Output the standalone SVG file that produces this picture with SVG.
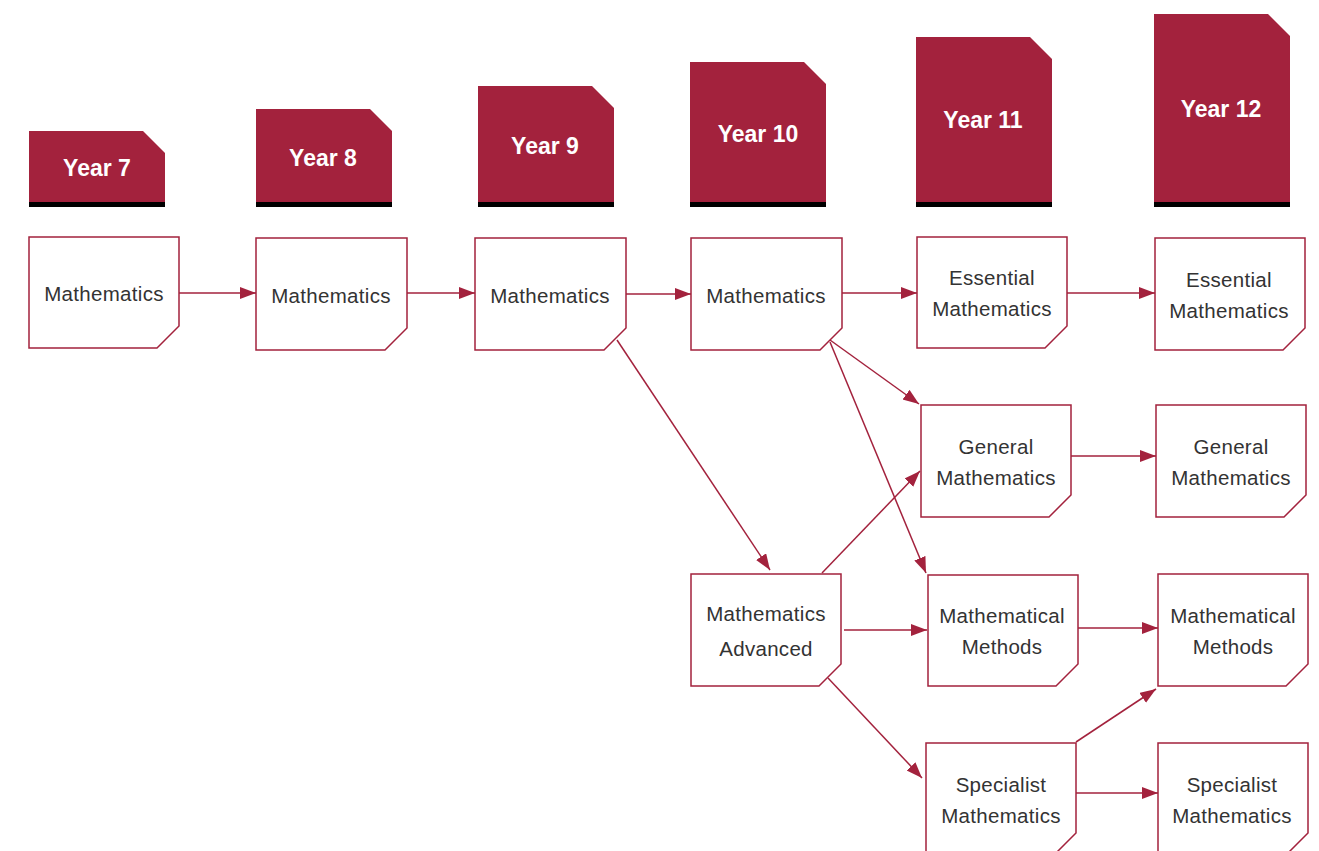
<svg xmlns="http://www.w3.org/2000/svg" width="1319" height="851" viewBox="0 0 1319 851">
<style>
.hdr{fill:#A3223D}
.bar{fill:#000}
.ht{font-family:"Liberation Sans",Arial,sans-serif;font-weight:bold;font-size:23px;fill:#fff;text-anchor:middle;dominant-baseline:central}
.box{fill:#fff;stroke:#A3223D;stroke-width:1.5}
.bt{font-family:"Liberation Sans",Arial,sans-serif;font-size:20.5px;fill:#333;text-anchor:middle;dominant-baseline:central;letter-spacing:0.3px}
.c{fill:none;stroke:#A3223D;stroke-width:1.5}
</style>
<defs>
<marker id="ah" markerUnits="userSpaceOnUse" markerWidth="17" markerHeight="13" refX="16" refY="6" orient="auto">
<path d="M0,0 L16,6 L0,12 Z" fill="#A3223D"/>
</marker>
</defs>
<g id="headers">
<g id="h7"><path class="hdr" d="M29,131 H143 L165,153 V207 H29 Z"/><rect class="bar" x="29" y="202" width="136" height="5"/><text class="ht" x="97" y="168">Year 7</text></g>
<g id="h8"><path class="hdr" d="M256,109 H370 L392,131 V207 H256 Z"/><rect class="bar" x="256" y="202" width="136" height="5"/><text class="ht" x="323" y="158">Year 8</text></g>
<g id="h9"><path class="hdr" d="M478,86 H592 L614,108 V207 H478 Z"/><rect class="bar" x="478" y="202" width="136" height="5"/><text class="ht" x="545" y="146">Year 9</text></g>
<g id="h10"><path class="hdr" d="M690,62 H804 L826,84 V207 H690 Z"/><rect class="bar" x="690" y="202" width="136" height="5"/><text class="ht" x="758" y="134">Year 10</text></g>
<g id="h11"><path class="hdr" d="M916,37 H1030 L1052,59 V207 H916 Z"/><rect class="bar" x="916" y="202" width="136" height="5"/><text class="ht" x="983" y="120">Year 11</text></g>
<g id="h12"><path class="hdr" d="M1154,14 H1268 L1290,36 V207 H1154 Z"/><rect class="bar" x="1154" y="202" width="136" height="5"/><text class="ht" x="1221" y="109">Year 12</text></g>
</g>
<g id="connectors">
<line class="c" x1="179" y1="293" x2="256" y2="293" marker-end="url(#ah)"/>
<line class="c" x1="407" y1="293" x2="475" y2="293" marker-end="url(#ah)"/>
<line class="c" x1="626" y1="294" x2="691" y2="294" marker-end="url(#ah)"/>
<line class="c" x1="842" y1="293" x2="917" y2="293" marker-end="url(#ah)"/>
<line class="c" x1="1067" y1="293" x2="1155" y2="293" marker-end="url(#ah)"/>
<line class="c" x1="617" y1="340" x2="770" y2="570" marker-end="url(#ah)"/>
<line class="c" x1="830" y1="340" x2="919" y2="404" marker-end="url(#ah)"/>
<line class="c" x1="830" y1="342" x2="926" y2="573" marker-end="url(#ah)"/>
<line class="c" x1="822" y1="573" x2="920" y2="471" marker-end="url(#ah)"/>
<line class="c" x1="844" y1="630" x2="927" y2="630" marker-end="url(#ah)"/>
<line class="c" x1="828" y1="678" x2="922" y2="778" marker-end="url(#ah)"/>
<line class="c" x1="1071" y1="456" x2="1156" y2="456" marker-end="url(#ah)"/>
<line class="c" x1="1078" y1="628" x2="1158" y2="628" marker-end="url(#ah)"/>
<line class="c" x1="1076" y1="742" x2="1156" y2="689" marker-end="url(#ah)"/>
<line class="c" x1="1076" y1="793" x2="1158" y2="793" marker-end="url(#ah)"/>
</g>
<g id="n7"><path class="box" d="M29,237 H179 V326 L157,348 H29 Z"/><text class="bt" x="104" y="293">Mathematics</text></g>
<g id="n8"><path class="box" d="M256,238 H407 V328 L385,350 H256 Z"/><text class="bt" x="331" y="295">Mathematics</text></g>
<g id="n9"><path class="box" d="M475,238 H626 V328 L604,350 H475 Z"/><text class="bt" x="550" y="295">Mathematics</text></g>
<g id="n10"><path class="box" d="M691,238 H842 V328 L820,350 H691 Z"/><text class="bt" x="766" y="295">Mathematics</text></g>
<g id="ess11"><path class="box" d="M917,237 H1067 V326 L1045,348 H917 Z"/><text class="bt" x="992" y="277">Essential</text><text class="bt" x="992" y="308">Mathematics</text></g>
<g id="ess12"><path class="box" d="M1155,238 H1305 V328 L1283,350 H1155 Z"/><text class="bt" x="1229" y="279">Essential</text><text class="bt" x="1229" y="310">Mathematics</text></g>
<g id="gen11"><path class="box" d="M921,405 H1071 V495 L1049,517 H921 Z"/><text class="bt" x="996" y="446">General</text><text class="bt" x="996" y="477">Mathematics</text></g>
<g id="gen12"><path class="box" d="M1156,405 H1306 V495 L1284,517 H1156 Z"/><text class="bt" x="1231" y="446">General</text><text class="bt" x="1231" y="477">Mathematics</text></g>
<g id="adv"><path class="box" d="M691,574 H841 V664 L819,686 H691 Z"/><text class="bt" x="766" y="613">Mathematics</text><text class="bt" x="766" y="648">Advanced</text></g>
<g id="meth11"><path class="box" d="M928,575 H1078 V664 L1056,686 H928 Z"/><text class="bt" x="1002" y="615">Mathematical</text><text class="bt" x="1002" y="646">Methods</text></g>
<g id="meth12"><path class="box" d="M1158,574 H1308 V664 L1286,686 H1158 Z"/><text class="bt" x="1233" y="615">Mathematical</text><text class="bt" x="1233" y="646">Methods</text></g>
<g id="spec11"><path class="box" d="M926,743 H1076 V833 L1054,855 H926 Z"/><text class="bt" x="1001" y="784">Specialist</text><text class="bt" x="1001" y="815">Mathematics</text></g>
<g id="spec12"><path class="box" d="M1158,743 H1308 V833 L1286,855 H1158 Z"/><text class="bt" x="1232" y="784">Specialist</text><text class="bt" x="1232" y="815">Mathematics</text></g>
</svg>
